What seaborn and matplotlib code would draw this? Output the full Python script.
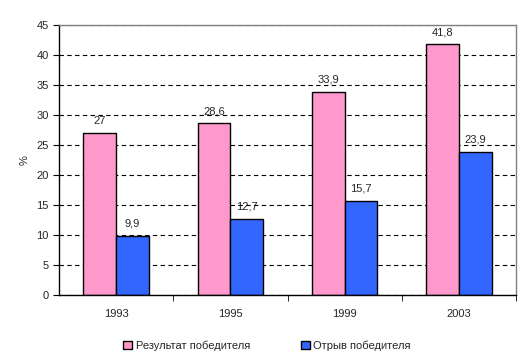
import pandas as pd
import matplotlib.pyplot as plt
import seaborn as sns
from matplotlib.ticker import MultipleLocator, FixedLocator

# data
years = ["1993", "1995", "1999", "2003"]
result_winner = [27, 28.6, 33.9, 41.8]
gap_winner = [9.9, 12.7, 15.7, 23.9]
series_names = ["Результат победителя", "Отрыв победителя"]
colors = ["#FF99CC", "#3366FF"]

df = pd.DataFrame({
    "year": years * 2,
    "value": result_winner + gap_winner,
    "series": [series_names[0]] * 4 + [series_names[1]] * 4,
})

sns.set_style("white")
plt.rcParams["font.family"] = ["Liberation Sans", "DejaVu Sans"]
plt.rcParams["font.size"] = 8

fig = plt.figure(figsize=(5.31, 3.63), dpi=100)
ax = fig.add_axes([0.111, 0.187, 0.861, 0.744])

sns.barplot(data=df, x="year", y="value", hue="series", palette=colors,
            width=0.572, gap=0, edgecolor="black", linewidth=1,
            saturation=1, ax=ax, legend=True)

ax.set_ylim(0, 45)
ax.set_xlim(-0.5, 3.5)
ax.yaxis.set_major_locator(MultipleLocator(5))
ax.yaxis.grid(True, linestyle=(0, (4, 3)), color="black", linewidth=0.8)
ax.set_axisbelow(True)

# value labels
for cont in ax.containers:
    labels = [f"{v:g}".replace(".", ",") for v in cont.datavalues]
    ax.bar_label(cont, labels=labels, padding=5, fontsize=8)

ax.set_xlabel("")
ax.set_ylabel("%", fontsize=8)
ax.yaxis.set_label_coords(-0.065, 0.5)

ax.tick_params(axis="x", which="major", length=0, pad=10, labelsize=8)
ax.xaxis.set_minor_locator(FixedLocator([0.5, 1.5, 2.5, 3.5]))
ax.tick_params(axis="x", which="minor", length=4, direction="out", color="black", bottom=True)
ax.tick_params(axis="y", length=4, direction="out", color="black", left=True, labelsize=8)

for side in ["left", "bottom"]:
    ax.spines[side].set_color("black")
    ax.spines[side].set_linewidth(1)
for side in ["top", "right"]:
    ax.spines[side].set_visible(True)
    ax.spines[side].set_color("#808080")
    ax.spines[side].set_linewidth(1)

handles, lbls = ax.get_legend_handles_labels()
ax.legend(handles, lbls, loc="upper center", bbox_to_anchor=(0.455, -0.13),
          ncol=2, frameon=False, handlelength=0.8, handleheight=0.8,
          handletextpad=0.3, columnspacing=4.6, fontsize=8)

fig.savefig("out.png", dpi=100)
plt.close(fig)
